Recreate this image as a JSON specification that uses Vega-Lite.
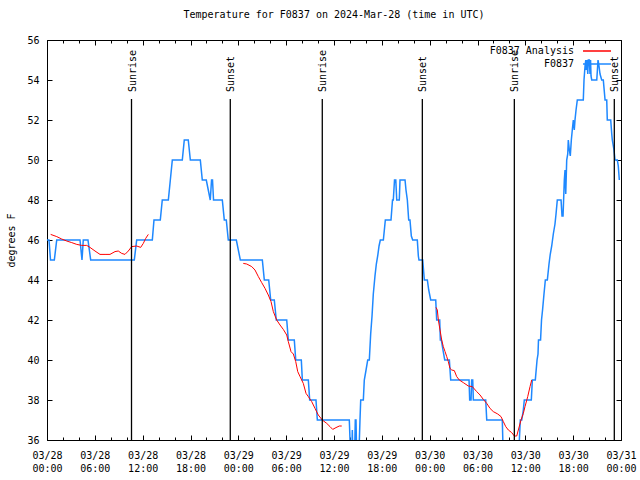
{
  "$schema": "https://vega.github.io/schema/vega-lite/v6.json",
  "width": 574,
  "height": 400,
  "autosize": {"type": "none"},
  "padding": {"left": 47, "top": 40, "right": 19, "bottom": 40},
  "background": "white",
  "title": {"text": "Temperature for F0837 on 2024-Mar-28 (time in UTC)", "offset": 15},
  "config": {
    "font": "DejaVu Sans Mono",
    "view": {"stroke": "#000000", "strokeWidth": 1},
    "axis": {"domain": false, "grid": false, "labelFont": "DejaVu Sans Mono", "labelFontSize": 10, "labelColor": "#000000", "tickColor": "#000000", "tickWidth": 1, "titleFont": "DejaVu Sans Mono", "titleFontSize": 10, "titleFontWeight": "normal", "titleColor": "#000000"},
    "title": {"font": "DejaVu Sans Mono", "fontSize": 10, "fontWeight": "normal", "color": "#000000", "anchor": "middle"}
  },
  "datasets": {
    "obs": [
      {"h":0,"temp":46},{"h":0.25,"temp":46},{"h":0.44,"temp":45},{"h":0.92,"temp":45},{"h":1.22,"temp":46},{"h":4.14,"temp":46},{"h":4.39,"temp":45},{"h":4.55,"temp":46},{"h":5.14,"temp":46},{"h":5.48,"temp":45},{"h":10.95,"temp":45},{"h":11.25,"temp":46},{"h":13.21,"temp":46},{"h":13.42,"temp":47},{"h":14.21,"temp":47},{"h":14.46,"temp":48},{"h":15.22,"temp":48},{"h":15.47,"temp":49},{"h":15.72,"temp":50},{"h":16.97,"temp":50},{"h":17.22,"temp":51},{"h":17.72,"temp":51},{"h":17.98,"temp":50},{"h":19.23,"temp":50},{"h":19.48,"temp":49},{"h":19.98,"temp":49},{"h":20.23,"temp":48.5},{"h":20.48,"temp":48},{"h":20.64,"temp":49},{"h":20.76,"temp":49},{"h":20.89,"temp":48},{"h":21.99,"temp":48},{"h":22.24,"temp":47},{"h":22.49,"temp":47},{"h":22.74,"temp":46},{"h":23.75,"temp":46},{"h":24.25,"temp":45},{"h":27.01,"temp":45},{"h":27.26,"temp":44},{"h":27.81,"temp":44},{"h":28.06,"temp":43},{"h":28.51,"temp":43},{"h":28.76,"temp":42},{"h":30.07,"temp":42},{"h":30.27,"temp":41},{"h":31.02,"temp":41},{"h":31.2,"temp":40},{"h":31.9,"temp":40},{"h":32.03,"temp":39},{"h":32.78,"temp":39},{"h":32.95,"temp":38},{"h":33.74,"temp":38},{"h":33.91,"temp":37},{"h":37.92,"temp":37},{"h":38.1,"temp":35},{"h":38.22,"temp":35},{"h":38.3,"temp":36.5},{"h":38.38,"temp":35},{"h":38.57,"temp":35},{"h":38.67,"temp":37},{"h":38.76,"temp":37},{"h":38.86,"temp":35},{"h":38.95,"temp":35},{"h":39.18,"temp":36},
      {"h":39.26,"temp":37},{"h":39.35,"temp":38},{"h":39.68,"temp":38},{"h":39.8,"temp":39},{"h":40.02,"temp":39.5},{"h":40.23,"temp":40},{"h":40.43,"temp":40},{"h":40.6,"temp":41.3},{"h":40.77,"temp":42.2},{"h":40.93,"temp":43.3},{"h":41.14,"temp":44.2},{"h":41.31,"temp":44.8},{"h":41.48,"temp":45.2},{"h":41.65,"temp":45.7},{"h":41.81,"temp":46},{"h":42.19,"temp":46},{"h":42.44,"temp":47},{"h":43.15,"temp":47},{"h":43.34,"temp":48},{"h":43.44,"temp":48},{"h":43.59,"temp":49},{"h":43.75,"temp":49},{"h":43.87,"temp":48},{"h":44.19,"temp":48},{"h":44.28,"temp":49},{"h":44.91,"temp":49},{"h":45.03,"temp":48.5},{"h":45.2,"temp":48},{"h":45.37,"temp":47},{"h":45.53,"temp":47},{"h":45.7,"temp":46.2},{"h":45.87,"temp":46},{"h":46.45,"temp":46},{"h":46.58,"temp":45.2},{"h":46.66,"temp":45},{"h":47.13,"temp":45},{"h":47.33,"temp":44},{"h":47.71,"temp":44},{"h":47.88,"temp":43.5},{"h":48.13,"temp":43},{"h":48.76,"temp":43},{"h":48.88,"temp":42},{"h":49.26,"temp":42},{"h":49.34,"temp":41},{"h":49.46,"temp":41},{"h":49.67,"temp":40.5},{"h":49.89,"temp":40},{"h":50.47,"temp":40},{"h":50.64,"temp":39},{"h":52.94,"temp":39},{"h":53.02,"temp":38},{"h":53.19,"temp":38},{"h":53.27,"temp":39},{"h":53.4,"temp":39},{"h":53.48,"temp":38},{"h":55.03,"temp":38},{"h":55.16,"temp":37},{"h":57.11,"temp":37},{"h":57.24,"temp":35},{"h":59.12,"temp":35},{"h":59.25,"temp":36},{"h":59.37,"temp":37},{"h":59.55,"temp":37},{"h":59.75,"temp":37.5},{"h":59.87,"temp":38},{"h":60.75,"temp":38},{"h":60.88,"temp":39},{"h":61.25,"temp":39},{"h":61.47,"temp":40},{"h":61.59,"temp":40.3},{"h":61.65,"temp":41},{"h":61.91,"temp":41},{"h":62.03,"temp":42},{"h":62.16,"temp":42.5},{"h":62.34,"temp":43.3},{"h":62.51,"temp":44},{"h":62.76,"temp":44},{"h":62.97,"temp":44.8},{"h":63.13,"temp":45.3},{"h":63.31,"temp":45.7},{"h":63.51,"temp":46.3},{"h":63.72,"temp":46.8},{"h":63.85,"temp":47.3},{"h":64.01,"temp":48},{"h":64.48,"temp":48},{"h":64.6,"temp":47.2},{"h":64.73,"temp":47.2},{"h":64.89,"temp":49},{"h":64.98,"temp":49.5},{"h":65.07,"temp":48.3},{"h":65.19,"temp":50},{"h":65.32,"temp":50.3},{"h":65.39,"temp":51},{"h":65.52,"temp":50.5},{"h":65.64,"temp":50.2},{"h":65.77,"temp":51},{"h":65.89,"temp":51.5},{"h":66.02,"temp":52},{"h":66.14,"temp":51.5},{"h":66.23,"temp":52},{"h":66.36,"temp":52.5},{"h":66.52,"temp":53},{"h":67.27,"temp":53},{"h":67.36,"temp":54},{"h":67.49,"temp":54.7},{"h":67.58,"temp":55},{"h":67.65,"temp":54.5},{"h":67.74,"temp":55},{"h":67.83,"temp":54.3},{"h":67.9,"temp":55},{"h":68.03,"temp":55},{"h":68.11,"temp":54.3},{"h":68.18,"temp":55},{"h":68.24,"temp":54.2},{"h":68.33,"temp":54},{"h":68.96,"temp":54},{"h":69.12,"temp":55},{"h":69.24,"temp":54.7},{"h":69.37,"temp":54.3},{"h":69.58,"temp":54},{"h":69.78,"temp":54},{"h":70,"temp":53},{"h":70.21,"temp":53},{"h":70.28,"temp":52},{"h":70.71,"temp":52},{"h":70.84,"temp":51.3},{"h":70.91,"temp":51},{"h":71.12,"temp":50.5},{"h":71.25,"temp":50},{"h":71.54,"temp":50},{"h":71.66,"temp":49.7},{"h":71.79,"temp":49}
    ],
    "analysis": [
      {"h":0.46,"temp":46.28,"seg":1},{"h":1.22,"temp":46.17,"seg":1},{"h":1.84,"temp":46.05,"seg":1},{"h":2.47,"temp":45.95,"seg":1},{"h":3.1,"temp":45.87,"seg":1},{"h":3.73,"temp":45.78,"seg":1},{"h":4.35,"temp":45.73,"seg":1},{"h":4.98,"temp":45.73,"seg":1},{"h":5.39,"temp":45.63,"seg":1},{"h":6.02,"temp":45.45,"seg":1},{"h":6.65,"temp":45.28,"seg":1},{"h":7.28,"temp":45.28,"seg":1},{"h":7.9,"temp":45.28,"seg":1},{"h":8.53,"temp":45.42,"seg":1},{"h":8.94,"temp":45.45,"seg":1},{"h":9.37,"temp":45.33,"seg":1},{"h":9.78,"temp":45.28,"seg":1},{"h":10.2,"temp":45.45,"seg":1},{"h":10.62,"temp":45.67,"seg":1},{"h":11.25,"temp":45.7,"seg":1},{"h":11.75,"temp":45.63,"seg":1},{"h":12.08,"temp":45.83,"seg":1},{"h":12.38,"temp":46.08,"seg":1},{"h":12.71,"temp":46.28,"seg":1},
      {"h":24.62,"temp":44.83,"seg":2},{"h":25.05,"temp":44.8,"seg":2},{"h":25.68,"temp":44.67,"seg":2},{"h":26.09,"temp":44.5,"seg":2},{"h":26.51,"temp":44.17,"seg":2},{"h":26.93,"temp":43.87,"seg":2},{"h":27.35,"temp":43.58,"seg":2},{"h":27.76,"temp":43.25,"seg":2},{"h":28.1,"temp":42.92,"seg":2},{"h":28.39,"temp":42.42,"seg":2},{"h":28.81,"temp":42,"seg":2},{"h":29.23,"temp":41.75,"seg":2},{"h":29.64,"temp":41.53,"seg":2},{"h":30.07,"temp":41.25,"seg":2},{"h":30.27,"temp":40.92,"seg":2},{"h":30.61,"temp":40.42,"seg":2},{"h":30.9,"temp":40.3,"seg":2},{"h":31.2,"temp":39.92,"seg":2},{"h":31.45,"temp":39.42,"seg":2},{"h":31.74,"temp":39.17,"seg":2},{"h":32.15,"temp":38.83,"seg":2},{"h":32.49,"temp":38.33,"seg":2},{"h":32.78,"temp":38.17,"seg":2},{"h":33.2,"temp":37.92,"seg":2},{"h":33.62,"temp":37.58,"seg":2},{"h":34.03,"temp":37.25,"seg":2},{"h":34.53,"temp":37,"seg":2},{"h":35.09,"temp":36.83,"seg":2},{"h":35.5,"temp":36.67,"seg":2},{"h":35.84,"temp":36.53,"seg":2},{"h":36.25,"temp":36.62,"seg":2},{"h":36.67,"temp":36.7,"seg":2},{"h":36.97,"temp":36.7,"seg":2},
      {"h":48.8,"temp":42.63,"seg":3},{"h":48.96,"temp":42.5,"seg":3},{"h":49.09,"temp":42,"seg":3},{"h":49.3,"temp":41.5,"seg":3},{"h":49.51,"temp":41,"seg":3},{"h":49.71,"temp":40.67,"seg":3},{"h":49.93,"temp":40.42,"seg":3},{"h":50.14,"temp":40.17,"seg":3},{"h":50.34,"temp":39.92,"seg":3},{"h":50.55,"temp":39.58,"seg":3},{"h":50.77,"temp":39.5,"seg":3},{"h":51.09,"temp":39.47,"seg":3},{"h":51.39,"temp":39.17,"seg":3},{"h":51.72,"temp":39,"seg":3},{"h":52.22,"temp":38.87,"seg":3},{"h":52.85,"temp":38.7,"seg":3},{"h":53.35,"temp":38.67,"seg":3},{"h":53.9,"temp":38.42,"seg":3},{"h":54.32,"temp":38.25,"seg":3},{"h":54.73,"temp":38.03,"seg":3},{"h":55.16,"temp":37.83,"seg":3},{"h":55.57,"temp":37.58,"seg":3},{"h":55.98,"temp":37.42,"seg":3},{"h":56.54,"temp":37.3,"seg":3},{"h":56.95,"temp":37.17,"seg":3},{"h":57.24,"temp":36.92,"seg":3},{"h":57.54,"temp":36.67,"seg":3},{"h":57.87,"temp":36.5,"seg":3},{"h":58.29,"temp":36.37,"seg":3},{"h":58.62,"temp":36.2,"seg":3},{"h":58.92,"temp":36.2,"seg":3},{"h":59.12,"temp":36.5,"seg":3},{"h":59.46,"temp":37,"seg":3},{"h":59.75,"temp":37.33,"seg":3},{"h":59.96,"temp":37.67,"seg":3},{"h":60.3,"temp":38.17,"seg":3},{"h":60.59,"temp":38.67,"seg":3},{"h":60.8,"temp":39,"seg":3}
    ],
    "sun": [
      {"h":10.6,"event":"Sunrise"},{"h":22.99,"event":"Sunset"},{"h":34.53,"event":"Sunrise"},{"h":47.08,"event":"Sunset"},{"h":58.62,"event":"Sunrise"},{"h":71.16,"event":"Sunset"}
    ]
  },
  "layer": [
    {
      "data": {"name": "obs"},
      "mark": {"type": "line", "strokeWidth": 1.5, "clip": true},
      "encoding": {
        "x": {"field": "h", "type": "quantitative", "scale": {"domain": [0, 72], "nice": false, "zero": false},
          "axis": {"orient": "bottom", "values": [0,6,12,18,24,30,36,42,48,54,60,66,72], "tickSize": -5, "labelPadding": 15, "labelBaseline": "top", "labelLineHeight": 13, "labelFlush": false, "labelOverlap": false, "title": null,
            "labelExpr": "['03/' + (28 + floor(datum.value / 24)), (datum.value % 24 < 10 ? '0' : '') + (datum.value % 24) + ':00']"}},
        "y": {"field": "temp", "type": "quantitative", "scale": {"domain": [36, 56], "nice": false, "zero": false},
          "axis": {"orient": "left", "values": [36,38,40,42,44,46,48,50,52,54,56], "tickSize": -5, "labelPadding": 13, "title": "degrees F", "titleX": -36, "titleY": 200, "titleAngle": 270, "titleAlign": "center", "titleBaseline": "middle"}},
        "color": {"datum": "F0837", "type": "nominal",
          "scale": {"domain": ["F0837 Analysis", "F0837"], "range": ["#ff0000", "#1e88ff"]},
          "legend": {"orient": "none", "legendX": 543, "legendY": 4, "title": null, "symbolType": "M-2.33,0H2.33", "symbolSize": 144, "symbolStrokeWidth": 1.5, "labelAlign": "right", "labelOffset": -30, "labelFont": "DejaVu Sans Mono", "labelFontSize": 10, "labelColor": "#000000", "rowPadding": 1, "padding": 0}}
      }
    },
    {
      "data": {"name": "analysis"},
      "mark": {"type": "line", "strokeWidth": 1, "clip": true},
      "encoding": {
        "x": {"field": "h", "type": "quantitative", "scale": {"domain": [0, 72], "nice": false, "zero": false},
          "axis": {"orient": "top", "values": [0,6,12,18,24,30,36,42,48,54,60,66,72], "tickSize": -5, "labels": false, "title": null}},
        "y": {"field": "temp", "type": "quantitative", "scale": {"domain": [36, 56], "nice": false, "zero": false},
          "axis": {"orient": "right", "values": [36,38,40,42,44,46,48,50,52,54,56], "tickSize": -5, "labels": false, "title": null}},
        "detail": {"field": "seg", "type": "nominal"},
        "color": {"datum": "F0837 Analysis", "type": "nominal"}
      }
    },
    {
      "data": {"name": "sun"},
      "mark": {"type": "rule", "color": "#000000", "strokeWidth": 1.3},
      "encoding": {
        "x": {"field": "h", "type": "quantitative", "scale": {"domain": [0, 72], "nice": false, "zero": false},
          "axis": {"orient": "bottom", "values": [0,2,4,6,8,10,12,14,16,18,20,22,24,26,28,30,32,34,36,38,40,42,44,46,48,50,52,54,56,58,60,62,64,66,68,70,72], "tickSize": -3, "labels": false, "title": null}},
        "y": {"datum": 36, "type": "quantitative", "axis": null},
        "y2": {"datum": 53.05}
      }
    },
    {
      "data": {"name": "sun"},
      "mark": {"type": "text", "angle": 270, "align": "left", "baseline": "middle", "dy": 1, "font": "DejaVu Sans Mono", "fontSize": 10, "color": "#000000"},
      "encoding": {
        "x": {"field": "h", "type": "quantitative", "scale": {"domain": [0, 72], "nice": false, "zero": false},
          "axis": {"orient": "top", "values": [0,2,4,6,8,10,12,14,16,18,20,22,24,26,28,30,32,34,36,38,40,42,44,46,48,50,52,54,56,58,60,62,64,66,68,70,72], "tickSize": -3, "labels": false, "title": null}},
        "y": {"datum": 53.4, "type": "quantitative", "axis": null},
        "text": {"field": "event"}
      }
    }
  ],
  "resolve": {"axis": {"x": "independent", "y": "independent"}}
}
